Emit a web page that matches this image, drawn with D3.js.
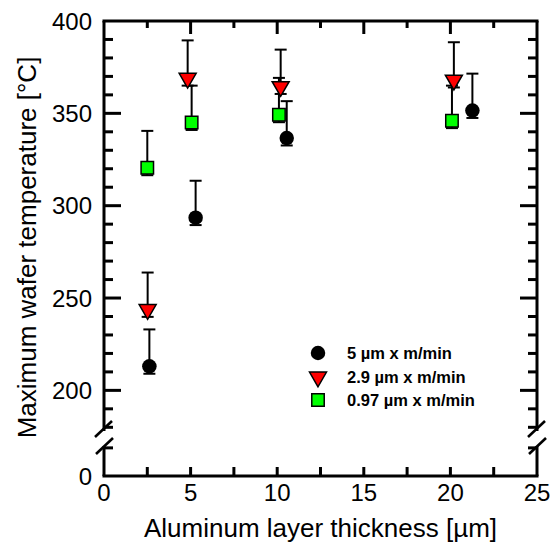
<!DOCTYPE html>
<html>
<head>
<meta charset="utf-8">
<script src="https://cdn.jsdelivr.net/npm/d3@7"></script>
<style>
  body { margin: 0; background: #fff; }
  svg { display: block; font-family: "Liberation Sans", Arial, sans-serif; }
</style>
</head>
<body>
<div id="chart"></div>
<script>
// ---- data ----
const seriesNames = ["5 µm x m/min", "2.9 µm x m/min", "0.97 µm x m/min"];
// thickness [µm]
const xBlack = [2.62, 5.29, 10.55, 21.27];
const xRed   = [2.52, 4.83, 10.2, 20.2];
const xGreen = [2.5, 5.06, 10.1, 20.09];
// max temperature [°C]
const yBlack = [213, 293.5, 336.6, 351.5];
const yRed   = [243.8, 369, 364.5, 368];
const yGreen = [320.5, 345, 349.2, 346];
// error bars (up / down)
const errUpBlack = [20, 20, 20, 20];
const errUpRed   = [20, 20.5, 20, 20.5];
const errUpGreen = [20, 20, 20, 19];
const errDown = [4, 4, 4, 4];

const xTicks = [0, 5, 10, 15, 20, 25];
const yTicksUpper = [200, 250, 300, 350, 400];
const yTicksLower = [0];

// ---- layout ----
const W = 551, H = 547;
const mLeft = 104, mRight = 537, mTop = 21, mBottom = 476;

const svg = d3.select("#chart").append("svg")
  .attr("width", W).attr("height", H);

const x = d3.scaleLinear().domain([0, 25]).range([mLeft, mRight]);
// broken y axis: upper part 178..400, lower part 0..16
const yUp = d3.scaleLinear().domain([178, 400]).range([431, mTop]);
const yLo = d3.scaleLinear().domain([0, 16]).range([mBottom, 446]);

const lw = 3;
const frame = svg.append("g").attr("stroke", "#000").attr("stroke-width", lw).attr("fill", "none");

// top & bottom lines
frame.append("line").attr("x1", mLeft - 1.5).attr("x2", mRight + 1.5).attr("y1", mTop).attr("y2", mTop);
frame.append("line").attr("x1", mLeft - 1.5).attr("x2", mRight + 1.5).attr("y1", mBottom).attr("y2", mBottom);
// left/right broken lines
[mLeft, mRight].forEach(px => {
  frame.append("line").attr("x1", px).attr("x2", px).attr("y1", mTop).attr("y2", yUp(178));
  frame.append("line").attr("x1", px).attr("x2", px).attr("y1", yLo(16)).attr("y2", mBottom);
  // break marks
  frame.append("line").attr("stroke-width", 2.5)
    .attr("x1", px - 9).attr("y1", yUp(178) + 6).attr("x2", px + 8).attr("y2", yUp(178) - 10);
  frame.append("line").attr("stroke-width", 2.5)
    .attr("x1", px - 8).attr("y1", yLo(16) + 8).attr("x2", px + 9).attr("y2", yLo(16) - 8);
});

// x ticks (bottom + top, inward)
d3.range(0, 25.01, 2.5).forEach(v => {
  const major = v % 5 === 0;
  const len = major ? 13 : 7;
  if (v === 0 || v === 25) return;
  frame.append("line").attr("x1", x(v)).attr("x2", x(v)).attr("y1", mBottom).attr("y2", mBottom - 9);
  frame.append("line").attr("x1", x(v)).attr("x2", x(v)).attr("y1", mTop).attr("y2", mTop + len);
});

// y ticks (left + right, inward)
d3.range(180, 400.01, 10).forEach(v => {
  const major = v % 50 === 0;
  const len = major ? 17 : 9;
  if (v === 400) return;
  frame.append("line").attr("x1", mLeft).attr("x2", mLeft + len).attr("y1", yUp(v)).attr("y2", yUp(v));
  frame.append("line").attr("x1", mRight).attr("x2", mRight - len).attr("y1", yUp(v)).attr("y2", yUp(v));
});
[15].forEach(v => {
  frame.append("line").attr("x1", mLeft).attr("x2", mLeft + 9).attr("y1", yLo(v)).attr("y2", yLo(v));
  frame.append("line").attr("x1", mRight).attr("x2", mRight - 9).attr("y1", yLo(v)).attr("y2", yLo(v));
});

// tick labels
const fs = 24;
svg.append("g").selectAll("text").data(xTicks).join("text")
  .attr("x", d => x(d)).attr("y", 501)
  .attr("text-anchor", "middle").attr("font-size", fs).text(d => d);
svg.append("g").selectAll("text").data(yTicksUpper).join("text")
  .attr("x", 92).attr("y", d => yUp(d) + 8.5)
  .attr("text-anchor", "end").attr("font-size", fs).text(d => d);
svg.append("g").selectAll("text").data(yTicksLower).join("text")
  .attr("x", 92).attr("y", d => yLo(d) + 8.5)
  .attr("text-anchor", "end").attr("font-size", fs).text(d => d);

// axis titles
svg.append("text").attr("x", (mLeft + mRight) / 2).attr("y", 537)
  .attr("text-anchor", "middle").attr("font-size", 26)
  .text("Aluminum layer thickness [µm]");
svg.append("text")
  .attr("transform", `translate(36,${(mTop + mBottom) / 2 - 1}) rotate(-90)`)
  .attr("text-anchor", "middle").attr("font-size", 26)
  .text("Maximum wafer temperature [°C]");

// ---- error bars & markers ----
const series = [
  { xs: xBlack, ys: yBlack, up: errUpBlack, shape: "circle", fill: "#000" },
  { xs: xRed, ys: yRed, up: errUpRed, shape: "triangle", fill: "#ff0000" },
  { xs: xGreen, ys: yGreen, up: errUpGreen, shape: "square", fill: "#00ff00" }
];

const sym = {
  circle: d3.symbol().type(d3.symbolCircle).size(165),
  square: d3.symbol().type(d3.symbolSquare).size(155),
  triangle: d3.symbol().type(d3.symbolTriangle).size(125)
};

function marker(g, shape, fill, cx, cy) {
  const p = g.append("path").attr("d", sym[shape]())
    .attr("fill", fill).attr("stroke", "#000").attr("stroke-width", shape === "circle" ? 0 : 1.5);
  if (shape === "triangle") p.attr("transform", `translate(${cx},${cy}) rotate(180)`);
  else p.attr("transform", `translate(${cx},${cy})`);
}

const plot = svg.append("g");
series.slice().reverse().forEach(s => {
  s.xs.forEach((xv, i) => {
    const cx = x(xv);
    const eb = plot.append("g").attr("stroke", "#000").attr("stroke-width", 2);
    eb.append("line").attr("x1", cx).attr("x2", cx).attr("y1", yUp(s.ys[i] - errDown[i])).attr("y2", yUp(s.ys[i] + s.up[i]));
    eb.append("line").attr("x1", cx - 6).attr("x2", cx + 6).attr("y1", yUp(s.ys[i] + s.up[i])).attr("y2", yUp(s.ys[i] + s.up[i]));
    eb.append("line").attr("x1", cx - 6).attr("x2", cx + 6).attr("y1", yUp(s.ys[i] - errDown[i])).attr("y2", yUp(s.ys[i] - errDown[i]));
    marker(plot, s.shape, s.fill, cx, yUp(s.ys[i]));
  });
});

// ---- legend ----
const legend = svg.append("g");
const legY = [353, 377, 400];
series.forEach((s, i) => {
  marker(legend, s.shape, s.fill, 318, legY[i]);
  legend.append("text").attr("x", 347).attr("y", legY[i] + 6)
    .attr("font-size", 16.5).attr("font-weight", "bold").text(seriesNames[i]);
});
</script>
</body>
</html>
